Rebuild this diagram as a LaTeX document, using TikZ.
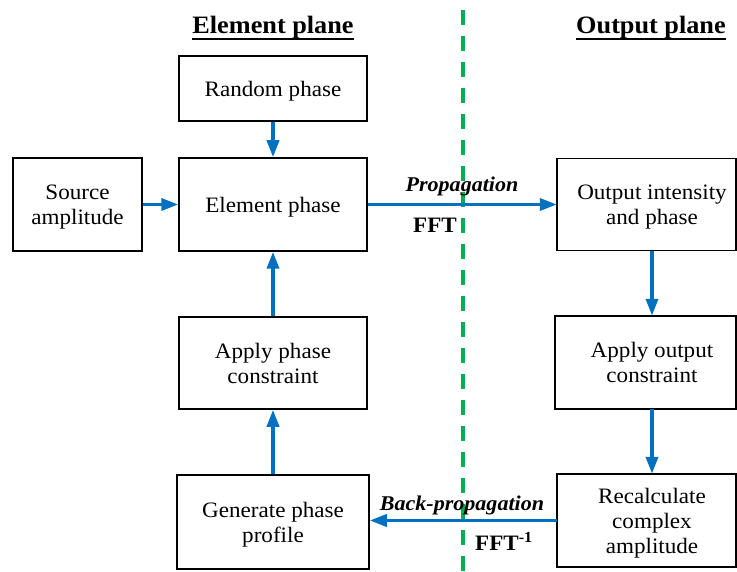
\documentclass[tikz,border=0pt]{standalone}
\usepackage{fontspec}
\setmainfont{Liberation Serif}[FakeStretch=1.05]
\usetikzlibrary{arrows.meta}
\definecolor{flow}{RGB}{0,112,192}
\definecolor{divider}{RGB}{0,176,80}
\begin{document}
\begin{tikzpicture}[x=1pt,y=-1pt,
  frame/.style={draw=black, line width=1.5pt},
  box/.style={frame, align=center, inner sep=0pt, text depth=0pt,
    font=\fontsize{22}{25}\selectfont},
  rbox/.style={align=center, inner sep=0pt, text depth=0pt,
    font=\fontsize{22}{25}\selectfont},
  flow/.style={draw=flow, line width=3.5pt,
    -{Triangle[length=17pt,width=12pt]}},
  title/.style={font=\fontsize{25}{28}\selectfont\bfseries, inner sep=0pt},
  tag/.style={font=\fontsize{21}{24}\selectfont\bfseries\itshape, inner sep=0pt},
  fft/.style={font=\fontsize{22}{25}\selectfont\bfseries, inner sep=0pt}]
\useasboundingbox (0,0) rectangle (737,572);

% dividing line between the two planes
\coordinate (gtop) at (463,10);
\coordinate (gbot) at (463,572);
\draw[divider, line width=4.5pt, dash pattern=on 15pt off 11pt] (gtop) -- (gbot);

% plane titles
\node[title, anchor=base] (tl) at (273,34) {Element plane};
\node[title, anchor=base] (tr) at (651,34) {Output plane};
\draw[line width=2pt] ([yshift=-5pt]tl.base west) -- ([yshift=-5pt]tl.base east);
\draw[line width=2pt] ([yshift=-5pt]tr.base west) -- ([yshift=-5pt]tr.base east);

% element plane boxes
\node[box, minimum width=188pt, minimum height=65pt] (rnd) at (273,88.5) {Random phase};
\node[box, minimum width=188pt, minimum height=93pt] (elem) at (273,204.5) {Element phase};
\node[box, minimum width=129pt, minimum height=93pt] (src) at (77.5,204.5) {Source\\amplitude};
\node[box, minimum width=188pt, minimum height=92pt] (apc) at (273,363) {Apply phase\\constraint};
\node[box, minimum width=192pt, minimum height=94pt] (gen) at (273,522) {Generate phase\\profile};

% output plane boxes (right side cut by the page edge)
\coordinate (rim) at (736,0);
\node[rbox, minimum width=190pt, minimum height=92pt] (out1) at (652,204.5) {Output intensity\\and phase};
\node[rbox, minimum width=194pt, minimum height=93pt] (out2) at (652,362.5) {Apply output\\constraint};
\node[rbox, minimum width=190pt, minimum height=93pt] (out3) at (652,520.5) {Recalculate\\complex\\amplitude};
\draw[frame] (out1.north west) rectangle (out1.south east -| rim);
\draw[frame] (out2.north west) rectangle (out2.south east -| rim);
\draw[frame] (out3.north west) rectangle (out3.south east -| rim);

% connectors
\draw[flow] (rnd) -- (elem);
\draw[flow] (src) -- (elem);
\draw[flow] (apc) -- (elem);
\draw[flow] (gen) -- (apc);
\draw[flow] (elem) -- (out1);
\draw[flow] (out1) -- (out2);
\draw[flow] (out2) -- (out3);
\draw[flow] (out3.west) -- (out3.west -| gen.east);

% transform labels
\node[tag, anchor=base] (lp) at (462,192) {Propagation};
\node[fft, anchor=base east] (lf) at (457,233) {FFT};
\node[tag, anchor=base] (lb) at (462,510) {Back-propagation};
\node[fft, anchor=base west] (li) at (475,550) {FFT\textsuperscript{-1}};
\end{tikzpicture}
\end{document}
